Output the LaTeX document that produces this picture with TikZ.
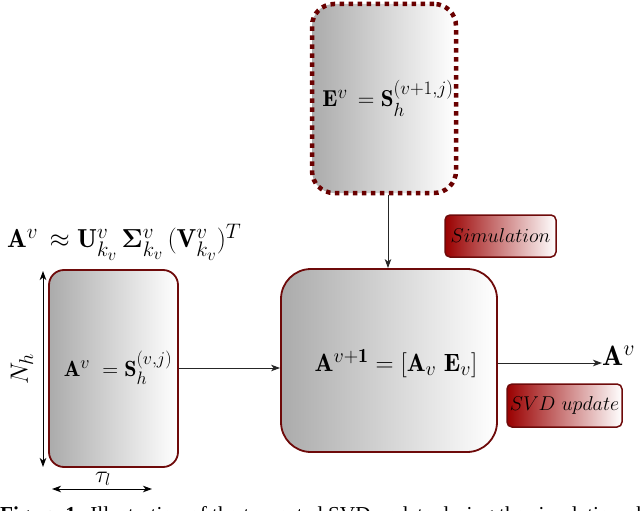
\RequirePackage{fix-cm}
\documentclass[tikz,border=0pt]{standalone}
\usepackage{amsmath,bm}
\usepackage{fontspec}
\usetikzlibrary{arrows.meta}
\newfontfamily\capfont{Liberation Serif}
\DeclareMathSizes{22}{22}{18}{15}
\DeclareMathSizes{23}{23}{19}{16}
\DeclareMathSizes{25}{25}{20}{17}
\DeclareMathSizes{26}{26}{21}{17}
\DeclareMathSizes{28}{28}{22}{18}
\definecolor{bord}{HTML}{6E0A0A}
\definecolor{dotc}{HTML}{6A0000}
\definecolor{tagc}{HTML}{9A0000}
\tikzset{
  gbox/.style={draw=bord, line width=1.8pt, left color=black!33, right color=white, inner sep=0pt},
  dotbox/.style={draw=dotc, line width=4.5pt, dash pattern=on 4.5pt off 4.5pt, left color=black!33, right color=white, inner sep=0pt, rounded corners=22pt},
  tagbox/.style={draw=bord, line width=1.5pt, left color=tagc, right color=white, rounded corners=5pt, inner sep=0pt},
  mathsz/.style={font=\fontsize{#1}{#1}\selectfont},
  tagmath/.style={font=\fontsize{20}{24}\selectfont},
  conn/.style={draw=black!85, line width=1pt, -{Stealth[length=9pt,width=6.5pt,inset=2.5pt]}},
  dim/.style={draw=black, line width=1pt, {Stealth[length=9pt,width=6.5pt,inset=2.5pt]}-{Stealth[length=9pt,width=6.5pt,inset=2.5pt]}},
}
\begin{document}
\begin{tikzpicture}[x=1pt,y=-1pt]
\useasboundingbox (0,0) rectangle (640,511);
% boxes
\node[dotbox, minimum width=144pt, minimum height=189pt] (E) at (384,98.5) {};
\node[mathsz=23] (Et) at (388,98) {$\mathbf{E}^v\,= \mathbf{S}_h^{(v+1,j)}$};
\node[gbox, rounded corners=15pt, minimum width=129pt, minimum height=197pt] (L) at (113.5,368.5) {};
\node[mathsz=22] (Lt) at (118,368) {$\mathbf{A}^v\;= \mathbf{S}_h^{(v,j)}$};
\node[gbox, rounded corners=30pt, minimum width=216pt, minimum height=183pt] (B) at (389,360.5) {};
\node[mathsz=25] (Bt) at (396,364) {$\mathbf{A}^{v+\mathbf{1}} = [\mathbf{A}_v\ \mathbf{E}_v]$};
% tags
\node[tagbox, tagmath, minimum width=111pt, minimum height=42pt] (sim) at (500.5,236) {$Simulation$};
\node[tagbox, tagmath, minimum width=115pt, minimum height=43pt] (svd) at (564.5,405.5) {$SVD\ update$};
% top formula
\node[mathsz=26, anchor=west, inner sep=0pt] (F) at (7,242) {$\mathbf{A}^v\,\approx \mathbf{U}^v_{k_v}\,\boldsymbol{\Sigma}^v_{k_v}\,(\mathbf{V}^v_{k_v})^T$};
% connectors
\coordinate (Etop) at (388,193);
\draw[conn] (E.south -| Etop) -- (B.north -| Etop);
\draw[conn] (L.east |- 0,368) -- (B.west |- 0,368);
\node[mathsz=28, anchor=west, inner sep=0pt] (out) at (602,356) {$\mathbf{A}^v$};
\draw[conn] (B.east |- 0,363) -- (out.west |- 0,363);
% dimensions
\coordinate (n1) at (43,271);
\coordinate (n2) at (43,467);
\draw[dim] (n1) -- (n2);
\node[mathsz=25, rotate=90] (Nh) at (22,369) {$N_h$};
\coordinate (t1) at (52,489);
\coordinate (t2) at (152,489);
\draw[dim] (t1) -- (t2);
\node[mathsz=24] (tau) at (103,479) {$\tau_l$};
% caption (cut off as in the source)
\node[anchor=base west, inner sep=0pt, font=\capfont\fontsize{21.3}{26}\selectfont] (cap) at (0,521) {\textbf{Figure 1:} Illustration of the truncated SVD update during the simulation phase};
\end{tikzpicture}
\end{document}
